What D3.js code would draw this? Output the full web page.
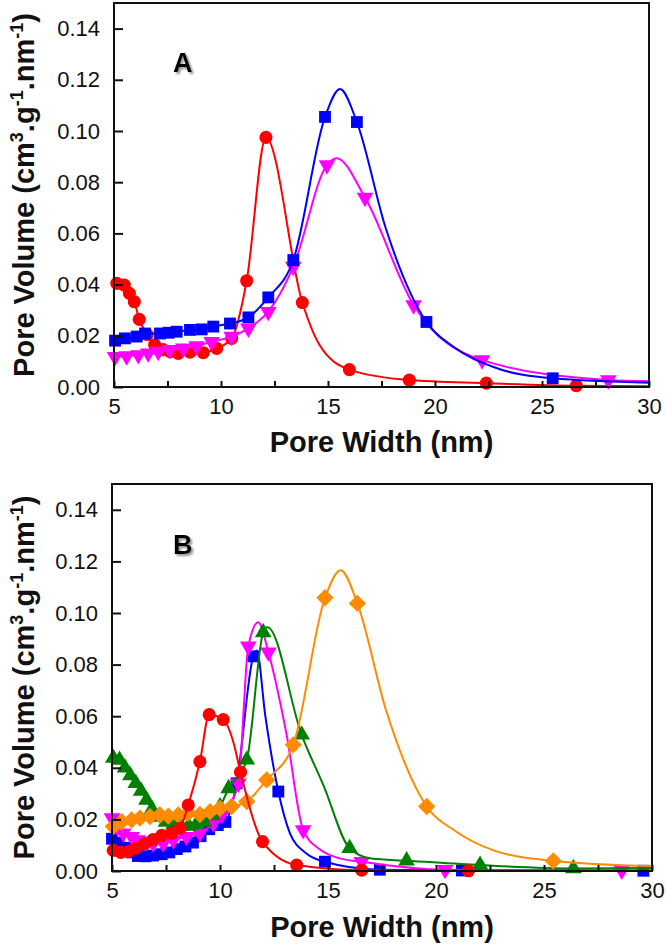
<!DOCTYPE html>
<html>
<head>
<meta charset="utf-8">
<script src="https://cdn.jsdelivr.net/npm/d3@7"></script>
<style>
  html, body { margin: 0; padding: 0; background: #fff; }
  svg { display: block; }
</style>
</head>
<body>
<svg id="chart" width="666" height="948"></svg>
<script>
// ---------- DATA ----------
const xTickValues = [5, 7.5, 10, 12.5, 15, 17.5, 20, 22.5, 25, 27.5, 30];
const xTickLabels = [5, 10, 15, 20, 25, 30];
const yTickValues = [0, 0.02, 0.04, 0.06, 0.08, 0.10, 0.12, 0.14];
const panelLabels = ["A", "B"];
const xTitle = "Pore Width (nm)";

// Panel A
const aRedPts = [[5.13,.0405],[5.48,.0398],[5.72,.0366],[5.95,.0333],[6.18,.0264],[6.55,.0205],[6.9,.0165],[7.3,.0146],[7.62,.0138],[8.0,.0131],[8.55,.0136],[9.17,.0134],[9.8,.0151],[10.5,.019],[11.2,.0415],[12.1,.0975],[13.8,.033],[16.0,.0068],[18.8,.0027],[22.4,.0015],[26.6,.0005]];
const aRedLine = [[14.6,.0165],[30,.0003]];
const aMagPts = [[5.05,.0118],[5.59,.0121],[6.14,.0125],[6.6,.0132],[7.07,.0138],[7.6,.0145],[8.24,.0151],[8.86,.016],[9.56,.0177],[10.5,.0197],[11.28,.0229],[12.21,.0294],[13.38,.047],[14.95,.0867],[16.73,.074],[19.0,.032],[22.2,.0105],[28.1,.0027]];
const aMagLine = [[15.4,.0894],[30,.0022]];
const aBluePts = [[5.05,.0181],[5.51,.019],[6.06,.0197],[6.45,.0209],[7.15,.0209],[7.55,.0212],[7.93,.0216],[8.55,.0223],[9.1,.0225],[9.64,.0236],[10.42,.0248],[11.28,.0272],[12.21,.035],[13.38,.0496],[14.86,.1055],[16.35,.1035],[19.6,.0254],[25.5,.0034]];
const aBlueLine = [[15.56,.1164],[17.7,.062],[20.86,.0157],[22.7,.0079],[30,.0017]];

// Panel B
const bBluePts = [[5.0,.0125],[5.3,.011],[5.6,.009],[5.9,.0072],[6.2,.0058],[6.55,.0057],[6.9,.006],[7.3,.0065],[7.65,.0072],[8.0,.0085],[8.4,.0095],[8.75,.011],[9.1,.0135],[9.5,.0162],[9.9,.0178],[10.25,.019],[10.77,.034],[11.54,.0832],[12.7,.0308],[14.86,.0036],[17.4,.0005],[21.2,.0002],[29.6,.0001]];
const bBlueLine = [[11.7,.0855],[12.1,.06],[13.24,.0146],[14.0,.0068]];
const bMagPts = [[5.0,.0205],[5.25,.017],[5.52,.0146],[5.91,.0133],[6.2,.012],[6.45,.0114],[6.91,.0107],[7.37,.0107],[7.84,.012],[8.45,.0133],[9.07,.0146],[9.69,.0185],[10.08,.0217],[10.85,.034],[11.31,.0871],[12.24,.0848],[13.85,.0159],[16.56,.0036],[20.42,.0005],[28.6,.0002]];
const bMagLine = [[11.77,.0964],[13.08,.053],[14.6,.0085],[15.5,.005],[30,.0002]];
const bGreenPts = [[5.06,.0438],[5.35,.043],[5.6,.040],[5.85,.037],[6.1,.034],[6.35,.031],[6.6,.0275],[6.85,.024],[7.15,.021],[7.5,.019],[7.85,.018],[8.2,.0175],[8.55,.0175],[8.9,.018],[9.25,.019],[9.65,.0215],[10.0,.025],[10.4,.032],[11.24,.0431],[12.0,.0925],[13.78,.0528],[16.0,.0088],[18.64,.004],[22.04,.0023],[26.36,.001]];
const bGreenLine = [[12.2,.0945],[14.8,.033],[17.0,.0048],[30,.0012]];
const bOrangePts = [[5.06,.0172],[5.45,.0191],[5.91,.0198],[6.3,.0205],[6.76,.0211],[7.22,.0217],[7.61,.0213],[8.07,.0217],[8.53,.0224],[9.07,.0219],[9.54,.023],[10.0,.0243],[10.54,.025],[11.24,.0269],[12.16,.0353],[13.39,.0489],[14.86,.1059],[16.36,.1037],[19.57,.025],[25.43,.0039]];
const bOrangeLine = [[15.59,.1166],[17.7,.062],[20.86,.0157],[22.7,.0079],[30,.0019]];
const bRedPts = [[5.06,.008],[5.4,.0072],[5.75,.0075],[6.1,.0088],[6.5,.0105],[6.9,.0122],[7.3,.0138],[7.76,.0146],[8.15,.0165],[8.53,.0256],[9.07,.0424],[9.5,.0606],[10.15,.0587],[10.95,.0383],[11.97,.0114],[13.55,.0023],[16.56,.0003],[21.5,.0001]];
const bRedLine = [[10.6,.0505],[30,.0001]];

// ---------- DRAWING ----------
const FONT = "'Liberation Sans', Arial, Helvetica, sans-serif";
const svg = d3.select("#chart");

const defs = svg.append("defs");
const f = defs.append("filter").attr("id", "shadow").attr("x", "-20%").attr("y", "-20%").attr("width", "160%").attr("height", "160%");
f.append("feDropShadow").attr("dx", 2).attr("dy", 2).attr("stdDeviation", 0.8)
  .attr("flood-color", "#777").attr("flood-opacity", 0.8);

const COLORS = { red: "#ff0000", blue: "#0000ff", magenta: "#ff00ff", green: "#008000", orange: "#ff8c00" };

const panels = [
  { label: panelLabels[0], left: 114, right: 649, top: 3, bottom: 387, titleY: 452, labelPos: [173, 72],
    series: [
      { pts: aRedPts, extra: aRedLine, color: COLORS.red, shape: "circle" },
      { pts: aMagPts, extra: aMagLine, color: COLORS.magenta, shape: "down" },
      { pts: aBluePts, extra: aBlueLine, color: COLORS.blue, shape: "square" }
    ] },
  { label: panelLabels[1], left: 112, right: 652, top: 484, bottom: 871, titleY: 937, labelPos: [173, 554],
    series: [
      { pts: bBluePts, extra: bBlueLine, color: COLORS.blue, shape: "square" },
      { pts: bMagPts, extra: bMagLine, color: COLORS.magenta, shape: "down" },
      { pts: bGreenPts, extra: bGreenLine, color: COLORS.green, shape: "up" },
      { pts: bOrangePts, extra: bOrangeLine, color: COLORS.orange, shape: "diamond" },
      { pts: bRedPts, extra: bRedLine, color: COLORS.red, shape: "circle" }
    ] }
];

function symbolFor(shape) {
  switch (shape) {
    case "circle": return { path: d3.symbol(d3.symbolCircle, 135)(), rot: 0 };
    case "square": return { path: d3.symbol(d3.symbolSquare, 140)(), rot: 0 };
    case "down": return { path: d3.symbol(d3.symbolTriangle, 120)(), rot: 180 };
    case "up": return { path: d3.symbol(d3.symbolTriangle, 120)(), rot: 0 };
    case "diamond": return { path: d3.symbol(d3.symbolSquare, 150)(), rot: 45 };
  }
}

panels.forEach((p, i) => {
  const x = d3.scaleLinear().domain([5, 30]).range([p.left, p.right]);
  const y = d3.scaleLinear().domain([0, 0.15]).range([p.bottom, p.top]);
  const g = svg.append("g");

  const clipId = "clip" + i;
  defs.append("clipPath").attr("id", clipId).append("rect")
    .attr("x", p.left).attr("y", p.top).attr("width", p.right - p.left).attr("height", p.bottom - p.top);

  const line = d3.line().x(d => x(d[0])).y(d => y(d[1])).curve(d3.curveMonotoneX);

  p.series.forEach(s => {
    const all = s.pts.concat(s.extra).sort((a, b) => a[0] - b[0]);
    g.append("path").datum(all)
      .attr("d", line)
      .attr("fill", "none")
      .attr("stroke", s.color)
      .attr("stroke-width", 2)
      .attr("clip-path", `url(#${clipId})`);
    const sym = symbolFor(s.shape);
    g.selectAll(null).data(s.pts).enter().append("path")
      .attr("d", sym.path)
      .attr("transform", d => `translate(${x(d[0])},${y(d[1])}) rotate(${sym.rot})`)
      .attr("fill", s.color);
  });

  // frame
  g.append("rect")
    .attr("x", p.left).attr("y", p.top)
    .attr("width", p.right - p.left).attr("height", p.bottom - p.top)
    .attr("fill", "none").attr("stroke", "#111").attr("stroke-width", 2);

  // axes
  const yAxis = d3.axisLeft(y).tickValues(yTickValues).tickSize(-9).tickPadding(14)
    .tickFormat(d3.format(".2f"));
  const ya = g.append("g").attr("transform", `translate(${p.left},0)`).call(yAxis);
  ya.select(".domain").remove();
  ya.selectAll("line").attr("stroke", "#111").attr("stroke-width", 2);
  ya.selectAll("text").attr("font-family", FONT).attr("font-size", 22).attr("fill", "#111");

  const xAxis = d3.axisBottom(x).tickValues(xTickValues).tickSize(-6).tickPadding(11)
    .tickFormat(d => xTickLabels.includes(d) ? d : "");
  const xa = g.append("g").attr("transform", `translate(0,${p.bottom})`).call(xAxis);
  xa.select(".domain").remove();
  xa.selectAll("line").attr("stroke", "#111").attr("stroke-width", 2);
  xa.selectAll("text").attr("font-family", FONT).attr("font-size", 22).attr("fill", "#111");

  // x title
  g.append("text")
    .attr("x", (p.left + p.right) / 2).attr("y", p.titleY)
    .attr("text-anchor", "middle")
    .attr("font-family", FONT).attr("font-weight", "bold").attr("font-size", 29)
    .attr("fill", "#111")
    .text(xTitle);

  // y title with superscripts
  const yt = g.append("text")
    .attr("transform", `translate(34,${(p.top + p.bottom) / 2}) rotate(-90)`)
    .attr("text-anchor", "middle")
    .attr("font-family", FONT).attr("font-weight", "bold").attr("font-size", 29)
    .attr("fill", "#111");
  const parts = [
    ["Pore Volume (cm", 0, false],
    ["3", -11, true],
    [".g", 11, false],
    ["-1", -11, true],
    [".nm", 11, false],
    ["-1", -11, true],
    [")", 11, false]
  ];
  parts.forEach(([t, dy, sup]) => {
    yt.append("tspan").attr("dy", dy).attr("font-size", sup ? 18 : 29).text(t);
  });

  // panel label with drop shadow
  g.append("text").attr("x", p.labelPos[0]).attr("y", p.labelPos[1])
    .attr("font-family", FONT).attr("font-weight", "bold").attr("font-size", 27)
    .attr("fill", "#000").attr("filter", "url(#shadow)").text(p.label);
});
</script>
</body>
</html>
